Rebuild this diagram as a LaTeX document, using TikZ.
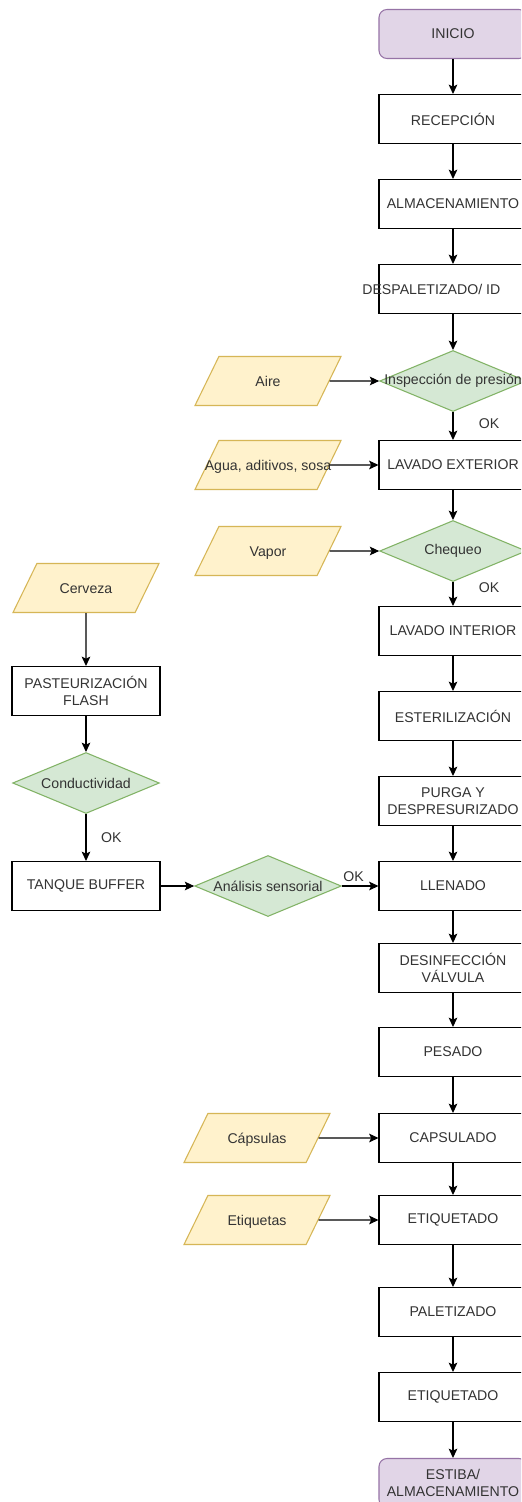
\documentclass[tikz,border=0pt]{standalone}
\usepackage{fontspec}
\setmainfont{Liberation Sans}
\usetikzlibrary{positioning,arrows.meta,shapes.geometric}
\definecolor{termfill}{HTML}{E1D5E7}
\definecolor{termdraw}{HTML}{9673A6}
\definecolor{infill}{HTML}{FFF2CC}
\definecolor{indraw}{HTML}{D6B656}
\definecolor{decfill}{HTML}{D5E8D4}
\definecolor{decdraw}{HTML}{82B366}
\definecolor{txt}{HTML}{333333}

\begin{document}
\begin{tikzpicture}[
  x=0.75pt, y=-0.75pt,
  font=\fontsize{10.6}{12.5}\selectfont,
  proc/.style={draw, line width=0.8pt, minimum width=111pt,
               minimum height=36.75pt, align=center, inner sep=0pt,
               fill=white, text=txt},
  term/.style={proc, draw=termdraw, fill=termfill, rounded corners=6pt},
  decision/.style={diamond, draw=decdraw, fill=decfill, line width=0.8pt,
                   minimum width=110pt, minimum height=45.75pt,
                   inner sep=0pt, text=txt},
  input/.style={trapezium, trapezium left angle=64,
                trapezium right angle=116, trapezium stretches body,
                draw=indraw, fill=infill, line width=0.8pt,
                text height=22.2pt, text depth=14.55pt,
                minimum width=109.5pt, inner sep=0pt, text=txt},
  arrow/.style={-{Stealth[length=7pt, width=6.5pt, inset=1.5pt]},
                line width=0.8pt},
  ok/.style={text=txt, inner sep=2pt}
]
\useasboundingbox (0,0) rectangle (521,1502);
\clip (0,0) rectangle (521,1502);
\fill[white] (0,0) rectangle (521,1502);

\node[term] (inicio) at (453,34) {INICIO};
\node[proc] (recep) at (453,119) {RECEPCIÓN};
\node[proc] (almac) at (453,204) {ALMACENAMIENTO};
\node[proc] (despal) at (453,289)
  {\makebox[0pt][l]{\hspace*{-68pt}DESPALETIZADO/ ID}};
\node[decision] (inspec) at (453,381) {\makebox[0pt]{Inspección de presión}};
\node[proc] (lavext) at (453,465) {LAVADO EXTERIOR};
\node[decision] (cheq) at (453,551) {\makebox[0pt]{Chequeo}};
\node[proc] (lavint) at (453,631) {LAVADO INTERIOR};
\node[proc] (ester) at (453,716) {ESTERILIZACIÓN};
\node[proc] (purga) at (453,801) {PURGA Y\\DESPRESURIZADO};
\node[proc] (llenado) at (453,886) {LLENADO};
\node[proc] (desinf) at (453,968) {DESINFECCIÓN\\VÁLVULA};
\node[proc] (pesado) at (453,1052) {PESADO};
\node[proc] (capsul) at (453,1138) {CAPSULADO};
\node[proc] (etiq) at (453,1220) {ETIQUETADO};
\node[proc] (paletiz) at (453,1312) {PALETIZADO};
\node[proc] (etiq2) at (453,1397) {ETIQUETADO};
\node[term] (estiba) at (453,1483) {ESTIBA/\\ALMACENAMIENTO};

\node[input] (aire) at (268,381) {Aire};
\node[input] (agua) at (268,465) {\makebox[0pt]{Agua, aditivos, sosa}};
\node[input] (vapor) at (268,551) {Vapor};
\node[input] (capsulas) at (257,1138) {Cápsulas};
\node[input] (etiquetas) at (257,1220) {Etiquetas};

\node[input] (cerveza) at (86,588) {Cerveza};
\node[proc] (pasteur) at (86,691) {PASTEURIZACIÓN\\FLASH};
\node[decision] (conduct) at (86,783) {\makebox[0pt]{Conductividad}};
\node[proc] (tanque) at (86,886) {TANQUE BUFFER};
\node[decision] (sensor) at (268,886) {\makebox[0pt]{Análisis sensorial}};

\draw[arrow] (inicio) -- (recep);
\draw[arrow] (recep) -- (almac);
\draw[arrow] (almac) -- (despal);
\draw[arrow] (despal) -- (inspec);
\draw[arrow] (inspec) -- node[ok, right=17pt, pos=0.4] {OK} (lavext);
\draw[arrow] (lavext) -- (cheq);
\draw[arrow] (cheq) -- node[ok, right=17pt, pos=0.25] {OK} (lavint);
\draw[arrow] (lavint) -- (ester);
\draw[arrow] (ester) -- (purga);
\draw[arrow] (purga) -- (llenado);
\draw[arrow] (llenado) -- (desinf);
\draw[arrow] (desinf) -- (pesado);
\draw[arrow] (pesado) -- (capsul);
\draw[arrow] (capsul) -- (etiq);
\draw[arrow] (etiq) -- (paletiz);
\draw[arrow] (paletiz) -- (etiq2);
\draw[arrow] (etiq2) -- (estiba);

\draw[arrow] (aire) -- (inspec);
\draw[arrow] (agua) -- (lavext);
\draw[arrow] (vapor) -- (cheq);
\draw[arrow] (capsulas) -- (capsul);
\draw[arrow] (etiquetas) -- (etiq);

\draw[arrow] (cerveza) -- (pasteur);
\draw[arrow] (pasteur) -- (conduct);
\draw[arrow] (conduct) -- node[ok, right=9pt, pos=0.5] {OK} (tanque);
\draw[arrow] (tanque) -- (sensor);
\draw[arrow] (sensor) -- node[ok, above=1pt, pos=0.32] {OK} (llenado);
\end{tikzpicture}
\end{document}
